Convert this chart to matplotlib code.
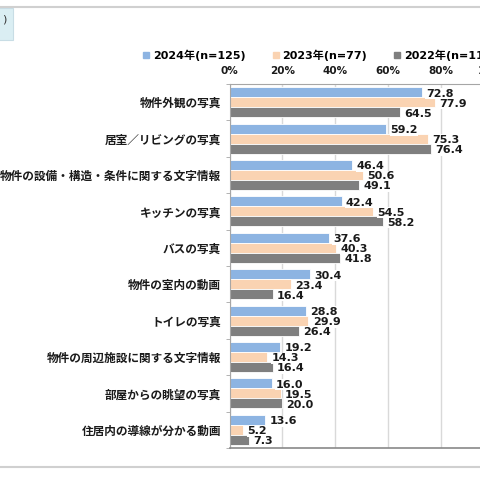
import numpy as np
import matplotlib
matplotlib.use('Agg')
import matplotlib.pyplot as plt
from matplotlib.lines import Line2D
from matplotlib.patches import Rectangle

plt.rcParams['font.family'] = ['DejaVu Sans', 'Noto Sans CJK JP']

categories = ['物件外観の写真', '居室／リビングの写真', '物件の設備・構造・条件に関する文字情報',
              'キッチンの写真', 'バスの写真', '物件の室内の動画', 'トイレの写真',
              '物件の周辺施設に関する文字情報', '部屋からの眺望の写真', '住居内の導線が分かる動画']
series_names = ['2024年(n=125)', '2023年(n=77)', '2022年(n=110)']
v2024 = [72.8, 59.2, 46.4, 42.4, 37.6, 30.4, 28.8, 19.2, 16.0, 13.6]
v2023 = [77.9, 75.3, 50.6, 54.5, 40.3, 23.4, 29.9, 14.3, 19.5, 5.2]
v2022 = [64.5, 76.4, 49.1, 58.2, 41.8, 16.4, 26.4, 16.4, 20.0, 7.3]
xticks = [0, 20, 40, 60, 80, 100]
colors = ['#8DB4E2', '#FAD3B2', '#7F7F7F']

fig = plt.figure(figsize=(4.8, 4.8), dpi=100)
# plot area runs past the right edge, like the cropped screenshot
ax = fig.add_axes([229.5 / 480, 1 - 448 / 480, 264.2 / 480, 364 / 480])

y = np.arange(len(categories))
h = 0.275
handles = []
for i, (vals, c, name) in enumerate(zip([v2024, v2023, v2022], colors, series_names)):
    bars = ax.barh(y + (i - 1) * h, vals, height=h, color=c, edgecolor='white',
                   linewidth=0.6, label=name, zorder=2)
    for b, v in zip(bars, vals):
        ax.annotate('%.1f' % v, (b.get_width(), b.get_y() + b.get_height() / 2),
                    xytext=(3, -1), textcoords='offset points', va='center', ha='left',
                    fontsize=8, fontweight='bold', color='#1a1a1a', zorder=3,
                    bbox=dict(boxstyle='square,pad=0.05', fc='white', ec='none'))
    handles.append(Line2D([], [], ls='', marker='s', markersize=5, color=c))

ax.set_xlim(0, 100)
ax.set_ylim(len(categories) - 0.5, -0.5)
ax.set_xticks(xticks)
ax.set_xticklabels(['%d%%' % t for t in xticks], fontsize=7.5, fontweight='bold')
ax.xaxis.tick_top()
ax.tick_params(axis='x', length=0, pad=6, colors='#1a1a1a')
ax.set_yticks(y)
ax.set_yticklabels(categories, fontsize=8.4, fontweight='bold',
                   family=['Noto Sans CJK JP', 'DejaVu Sans'])
ax.tick_params(axis='y', length=0, pad=6, colors='#1a1a1a')
ax.set_yticks(np.arange(len(categories) + 1) - 0.5, minor=True)
ax.tick_params(axis='y', which='minor', length=3, color='#A6A6A6')
ax.grid(axis='x', color='#D9D9D9', linewidth=1, zorder=0)
ax.set_axisbelow(True)
for s in ['top', 'left']:
    ax.spines[s].set_color('#A6A6A6')
ax.spines['bottom'].set_color('#898989')
ax.spines['bottom'].set_linewidth(1.2)
ax.spines['right'].set_visible(False)

fig.legend(handles, series_names, loc='center left', bbox_to_anchor=(143 / 480, 1 - 55 / 480),
           ncol=3, frameon=False, borderpad=0, borderaxespad=0, handlelength=0.6,
           handletextpad=0.3, columnspacing=2.4,
           prop={'size': 8, 'weight': 'bold', 'family': ['DejaVu Sans', 'Noto Sans CJK JP']})

# page decorations from the screenshot
fig.add_artist(Line2D([0, 1], [1 - 7 / 480, 1 - 7 / 480], color='#D0D0D0', lw=1.5))
fig.add_artist(Line2D([0, 1], [1 - 467 / 480, 1 - 467 / 480], color='#D0D0D0', lw=1.5))
fig.add_artist(Rectangle((-0.01, 1 - 40 / 480), 18 / 480, 32 / 480, transform=fig.transFigure,
                         fc='#DAEEF3', ec='#C8DDE5', lw=0.8))
fig.text(2 / 480, 1 - 20 / 480, ')', fontsize=8, va='center', ha='left', color='#333333')

fig.savefig('out.png', dpi=100)
